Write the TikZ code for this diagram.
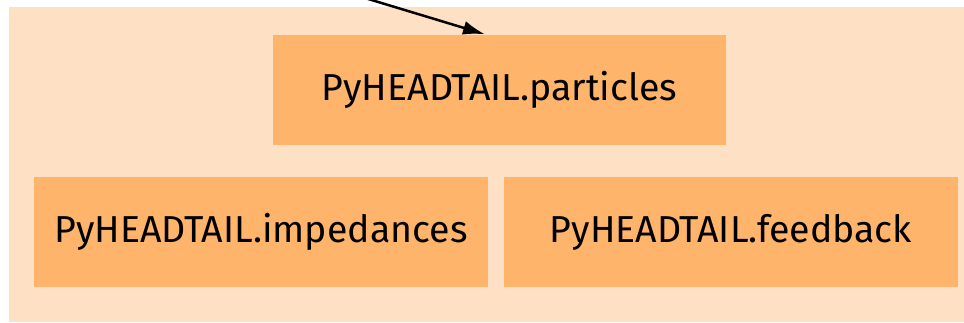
\documentclass[tikz,border=0pt]{standalone}
\usepackage{fontspec}
\setmainfont{Fira Sans}
\usetikzlibrary{arrows.meta}
\definecolor{panel}{RGB}{254,225,196}
\definecolor{boxc}{RGB}{255,180,107}
\begin{document}
\begin{tikzpicture}[x=1pt,y=-1pt,
  mod/.style={fill=boxc,draw=none,minimum height=110pt,inner sep=0pt,font=\fontsize{37.5}{40}\selectfont,text=black}]
\useasboundingbox (0,0) rectangle (964,322);
\fill[panel] (9,7) rectangle (964,322);
\node[mod,minimum width=453pt] (particles) at (499.5,89.5) {PyHEADTAIL.particles};
\node[mod,minimum width=454pt] (impedances) at (261,232) {PyHEADTAIL.impedances};
\node[mod,minimum width=454pt] (feedback) at (731,232) {PyHEADTAIL.feedback};
\coordinate (src) at (365,-2);
\coordinate (tip) at ([xshift=-14.5pt]particles.north);
\draw[-{Latex[length=22pt,width=14pt]},line width=2.5pt] (src) -- (tip);
\end{tikzpicture}
\end{document}
